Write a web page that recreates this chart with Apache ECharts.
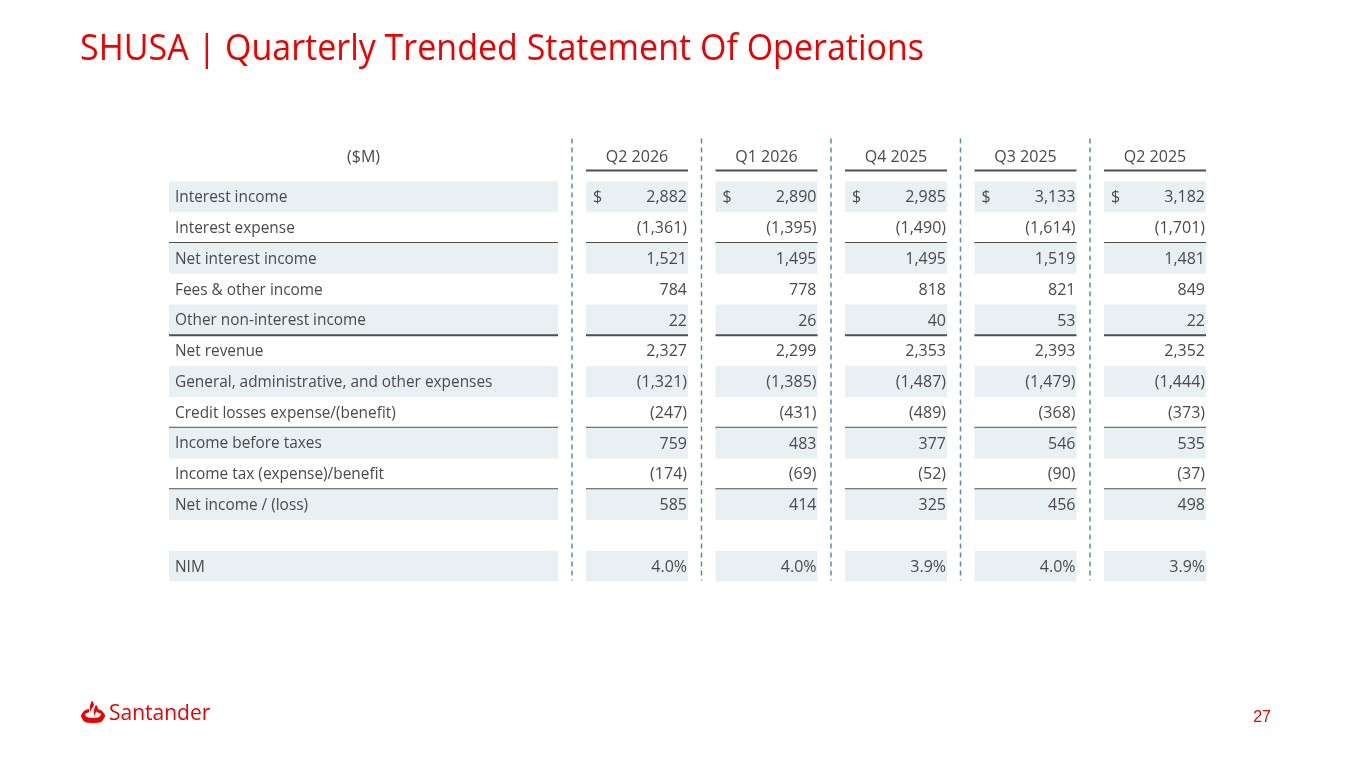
<!DOCTYPE html>
<html>
<head>
<meta charset="utf-8">
<title>SHUSA | Quarterly Trended Statement Of Operations</title>
<script src="https://cdn.jsdelivr.net/npm/echarts@6/dist/echarts.min.js"></script>
<style>
  html, body { margin: 0; padding: 0; background: #fff; }
  #main { width: 1365px; height: 768px; }
</style>
</head>
<body>
<div id="main"></div>
<script>
// column headers
var quarters = ['Q2 2026', 'Q1 2026', 'Q4 2025', 'Q3 2025', 'Q2 2025'];

// row labels (blank row before NIM)
var rowLabels = [
  'Interest income',
  'Interest expense',
  'Net interest income',
  'Fees & other income',
  'Other non-interest income',
  'Net revenue',
  'General, administrative, and other expenses',
  'Credit losses expense/(benefit)',
  'Income before taxes',
  'Income tax (expense)/benefit',
  'Net income / (loss)',
  '',
  'NIM'
];

// values, $M, by quarter (same order as quarters)
var interestIncome         = [2882, 2890, 2985, 3133, 3182];
var interestExpense        = [-1361, -1395, -1490, -1614, -1701];
var netInterestIncome      = [1521, 1495, 1495, 1519, 1481];
var feesOtherIncome        = [784, 778, 818, 821, 849];
var otherNonInterestIncome = [22, 26, 40, 53, 22];
var netRevenue             = [2327, 2299, 2353, 2393, 2352];
var gaExpenses             = [-1321, -1385, -1487, -1479, -1444];
var creditLosses           = [-247, -431, -489, -368, -373];
var incomeBeforeTaxes      = [759, 483, 377, 546, 535];
var incomeTax              = [-174, -69, -52, -90, -37];
var netIncome              = [585, 414, 325, 456, 498];
var nim                    = [4.0, 4.0, 3.9, 4.0, 3.9];

var rowValues = [
  interestIncome, interestExpense, netInterestIncome, feesOtherIncome,
  otherNonInterestIncome, netRevenue, gaExpenses, creditLosses,
  incomeBeforeTaxes, incomeTax, netIncome, null, nim
];

// rows that get a line under them / a tinted background / a $ sign
var ruleAfter = [1, 4, 7, 9];
var shaded = [0, 2, 4, 6, 8, 10, 12];
var dollarRows = [0];
var pctRows = [12];

// layout (x axis units, 0 = table left edge)
var LABEL_W = 389, COL0 = 417, COL_STEP = 129.5, COL_W = 102;
var TXT = '#4a4a4a', RULE = '#4f4f4f', TINT = '#e9f0f4', DASH = '#5a8fa8', RED = '#ec0000';
var FONT = '"Open Sans", "Noto Sans", sans-serif';

function fmt(v, row) {
  if (pctRows.indexOf(row) >= 0) return v.toFixed(1) + '%';
  var s = Math.abs(v).toLocaleString('en-US');
  return v < 0 ? '(' + s + ')' : s;
}

function colLeft(k) { return COL0 + COL_STEP * k; }

function txt(s, x, y, align, size) {
  return { type: 'text', style: { text: s, x: x, y: y, align: align, verticalAlign: 'middle', fill: TXT, font: (size || 15) + 'px ' + FONT } };
}

function rule(x1, x2, y) {
  return { type: 'line', shape: { x1: x1, y1: y, x2: x2, y2: y }, style: { stroke: RULE, lineWidth: 2 } };
}

function renderRow(params, api) {
  var r = api.value(1);
  var c = api.coord([0, r]);
  var h = api.size([0, 1])[1];
  var top = c[1] - h / 2, bot = c[1] + h / 2;
  var x0 = c[0];
  var xl = api.coord([LABEL_W, r])[0];
  var kids = [];
  var vals = rowValues[r];
  var k, a, b;

  if (shaded.indexOf(r) >= 0) {
    kids.push({ type: 'rect', shape: { x: x0, y: top, width: xl - x0, height: h }, style: { fill: TINT } });
    for (k = 0; k < quarters.length; k++) {
      a = api.coord([colLeft(k), r])[0]; b = api.coord([colLeft(k) + COL_W, r])[0];
      kids.push({ type: 'rect', shape: { x: a, y: top, width: b - a, height: h }, style: { fill: TINT } });
    }
  }

  kids.push(txt(rowLabels[r], x0 + 6, c[1] + 1, 'left', 15.4));

  if (vals) {
    for (k = 0; k < quarters.length; k++) {
      a = api.coord([colLeft(k), r])[0]; b = api.coord([colLeft(k) + COL_W, r])[0];
      kids.push(txt(fmt(vals[k], r), b - 1, c[1] + 1, 'right', 16));
      if (dollarRows.indexOf(r) >= 0) kids.push(txt('$', a + 7, c[1] + 1, 'left', 16));
    }
  }

  if (ruleAfter.indexOf(r) >= 0) {
    kids.push(rule(x0, xl, bot));
    for (k = 0; k < quarters.length; k++) {
      a = api.coord([colLeft(k), r])[0]; b = api.coord([colLeft(k) + COL_W, r])[0];
      kids.push(rule(a, b, bot));
    }
  }
  return { type: 'group', children: kids };
}

// header row + dashed column separators
function renderHead(params, api) {
  var first = api.coord([0, 0]);
  var last = api.coord([0, rowLabels.length - 1]);
  var h = api.size([0, 1])[1];
  var top = first[1] - h / 2;
  var bottom = last[1] + h / 2;
  var hy = top - 24;
  var kids = [];
  var x0 = first[0], xl = api.coord([LABEL_W, 0])[0];
  kids.push(txt('($M)', (x0 + xl) / 2, hy, 'center', 16));
  for (var k = 0; k < quarters.length; k++) {
    var a = api.coord([colLeft(k), 0])[0], b = api.coord([colLeft(k) + COL_W, 0])[0];
    kids.push(txt(quarters[k], (a + b) / 2, hy, 'center', 16));
    kids.push(rule(a, b, top - 11));
    var d = api.coord([colLeft(k) - (COL0 - LABEL_W) / 2, 0])[0];
    kids.push({ type: 'line', shape: { x1: d, y1: top - 43, x2: d, y2: bottom - 1 }, style: { stroke: DASH, lineWidth: 1.5, lineDash: [5, 4] } });
  }
  return { type: 'group', children: kids };
}

var rowData = [];
for (var i = 0; i < rowLabels.length; i++) rowData.push([0, i]);

var myChart = echarts.init(document.getElementById('main'));

var option = {
  backgroundColor: '#ffffff',
  animation: false,
  grid: { left: 169, right: 159, top: 181.5, height: 400 },
  xAxis: { type: 'value', min: 0, max: 1037, show: false },
  yAxis: { type: 'category', data: rowLabels, inverse: true, show: false },
  graphic: [
    { type: 'text', left: 80, top: 31, scaleY: 1.1, style: { text: 'SHUSA | Quarterly Trended Statement Of Operations', fill: RED, font: '34px ' + FONT } },
    { type: 'text', right: 94, top: 710, style: { text: '27', fill: RED, font: '16px "Liberation Sans", Arial, sans-serif' } },
    // logo flame
    {
      type: 'group', left: 81, top: 701,
      children: [
        { type: 'polygon', shape: { points: [[11, 0], [13, 4], [10, 9], [11, 12], [9, 9], [9, 5]], smooth: 0.3 }, style: { fill: RED } },
        { type: 'polygon', shape: { points: [[15, 4], [17, 8], [14, 13], [15, 16], [13, 13], [13, 9]], smooth: 0.3 }, style: { fill: RED } },
        { type: 'polygon', shape: { points: [[0, 15], [3, 10], [8, 8], [8, 11], [4, 13], [6, 16], [12, 17], [18, 16], [20, 13], [16, 11], [16, 8], [21, 10], [24, 15], [20, 21], [12, 22], [4, 21]], smooth: 0.25 }, style: { fill: RED } }
      ]
    },
    { type: 'text', left: 109, top: 704, style: { text: 'Santander', fill: RED, font: '500 21px ' + FONT } }
  ],
  series: [
    { type: 'custom', silent: true, renderItem: renderRow, data: rowData, z: 2 },
    { type: 'custom', silent: true, renderItem: renderHead, data: [[0, 0]], z: 3 }
  ]
};

myChart.setOption(option);
</script>
</body>
</html>
